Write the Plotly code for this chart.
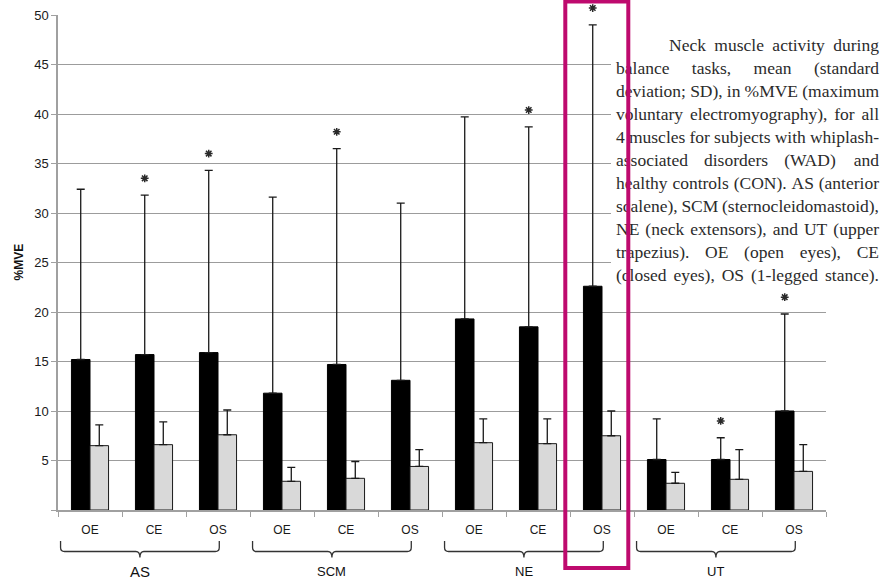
import plotly.graph_objects as go

# ---------------- data ----------------
groups = ["AS", "SCM", "NE", "UT"]
conditions = ["OE", "CE", "OS"]
wad_mean = [15.2, 15.7, 15.9, 11.8, 14.7, 13.1, 19.3, 18.5, 22.6, 5.1, 5.1, 10.0]
wad_sd = [17.2, 16.1, 18.4, 19.8, 21.8, 17.9, 20.4, 20.2, 26.4, 4.1, 2.2, 9.8]
con_mean = [6.5, 6.6, 7.6, 2.9, 3.2, 4.4, 6.8, 6.7, 7.5, 2.7, 3.1, 3.9]
con_sd = [2.1, 2.3, 2.5, 1.4, 1.7, 1.7, 2.4, 2.5, 2.5, 1.1, 3.0, 2.7]
significant = [False, True, True, False, True, False, False, True, True, False, True, True]
y_ticks = [0, 5, 10, 15, 20, 25, 30, 35, 40, 45, 50]
y_ticklabels = ["", "5", "10", "15", "20", "25", "30", "35", "40", "45", "50"]
caption_lines = [
    "Neck muscle activity during",
    "balance tasks, mean (standard",
    "deviation; SD), in %MVE (maximum",
    "voluntary electromyography), for all",
    "4 muscles for subjects with whiplash-",
    "associated disorders (WAD) and",
    "healthy controls (CON). AS (anterior",
    "scalene), SCM (sternocleidomastoid),",
    "NE (neck extensors), and UT (upper",
    "trapezius). OE (open eyes), CE",
    "(closed eyes), OS (1-legged stance).",
]

# ---------------- layout geometry ----------------
W, H = 885, 580
ML, MB = 58, 70            # paper area: x 58..885, y 0..510 (pixels)
PLOT_R, PLOT_T = 826, 15   # chart area inside paper
PAPER_W, PAPER_H = W - ML, H - MB
PW, PH = PLOT_R - ML, PAPER_H - PLOT_T
YMAX = 50
BARGAP = 0.42
N = len(groups) * len(conditions)
xs = list(range(N))
ticktext = conditions * len(groups)


def px_x(px):
    return (px - ML) / PAPER_W


def px_y(py):
    return (PAPER_H - py) / PAPER_H


def cat_px(c):
    return ML + (c + 0.5) * PW / N


def px_to_cat(px):
    return (px - ML) / (PW / N) - 0.5


def py_to_val(py):
    return (PAPER_H - py) / (PH / YMAX)


fig = go.Figure()

fig.add_bar(
    x=xs, y=wad_mean, name="WAD",
    marker=dict(color="#000000", line=dict(color="#000000", width=1)),
    error_y=dict(type="data", array=wad_sd, arrayminus=[0] * N, symmetric=False,
                 color="#1a1a1a", thickness=1.3, width=4),
)
fig.add_bar(
    x=xs, y=con_mean, name="CON",
    marker=dict(color="#D9D9D9", line=dict(color="#1a1a1a", width=1)),
    error_y=dict(type="data", array=con_sd, arrayminus=[0] * N, symmetric=False,
                 color="#1a1a1a", thickness=1.3, width=4),
)

# significance stars over the WAD bars (y3 = same scale, taller domain)
bw = (1 - BARGAP) / 2
star_x = [i - bw / 2 for i in xs if significant[i]]
star_y = [wad_mean[i] + wad_sd[i] + 1.7 for i in xs if significant[i]]
fig.add_scatter(
    x=star_x, y=star_y, mode="markers", cliponaxis=False, hoverinfo="skip",
    xaxis="x", yaxis="y3",
    marker=dict(symbol="asterisk-open", size=6.5, color="#2a2a2a",
                line=dict(color="#2a2a2a", width=1.5)),
)

# ---------------- justified caption (pixel-mapped axes) ----------------
TW = {' ': 250, 'a': 444, 'b': 500, 'c': 444, 'd': 500, 'e': 444, 'f': 333, 'g': 500,
      'h': 500, 'i': 278, 'j': 278, 'k': 500, 'l': 278, 'm': 778, 'n': 500, 'o': 500,
      'p': 500, 'q': 500, 'r': 333, 's': 389, 't': 278, 'u': 500, 'v': 500, 'w': 722,
      'x': 500, 'y': 500, 'z': 444, 'A': 722, 'C': 667, 'D': 722, 'E': 611, 'M': 889,
      'N': 722, 'O': 722, 'S': 556, 'T': 611, 'U': 722, 'V': 722, 'W': 944, '(': 333,
      ')': 333, ',': 250, '.': 250, ';': 278, '%': 833, '-': 333, '1': 500, '4': 500}
FS = 17.5
CAP_L, CAP_R, CAP_INDENT = 616, 879, 669
CAP_Y0, CAP_DY = 46.5, 23.0


def wwidth(w):
    return sum(TW.get(ch, 500) for ch in w) * FS / 1000.0


cx, cy, ct, cp = [], [], [], []
for li, line in enumerate(caption_lines):
    words = line.split(" ")
    left = CAP_INDENT if li == 0 else CAP_L
    y = CAP_Y0 + li * CAP_DY
    widths = [wwidth(w) for w in words]
    gap = (CAP_R - left - sum(widths)) / (len(words) - 1)
    pos = left
    for k, w in enumerate(words):
        if k == len(words) - 1:
            cx.append(CAP_R); cp.append("middle left")
        else:
            cx.append(pos); cp.append("middle right")
        cy.append(y); ct.append(w)
        pos += widths[k] + gap

fig.add_scatter(
    x=cx, y=cy, text=ct, mode="text", textposition=cp, cliponaxis=False,
    hoverinfo="skip", xaxis="x2", yaxis="y2",
    textfont=dict(family="Liberation Serif", size=FS, color="#2b2b2b"),
)

shapes = []
# white panel behind caption hides the gridlines (between grid and bars)
shapes.append(dict(type="rect", xref="x", yref="y", layer="between",
                   x0=px_to_cat(611), x1=px_to_cat(W), y0=py_to_val(292),
                   y1=py_to_val(30), fillcolor="white", line=dict(width=0)))

# group braces
BR_TOP, BR_H, BR_TIP = 541, 551.5, 557.5
for g in range(len(groups)):
    a = cat_px(g * 3 - 0.46)
    b = cat_px(g * 3 + 2 + 0.02)
    m = (a + b) / 2
    pts = [
        ("M", a, BR_TOP), ("L", a, BR_H - 4), ("Q", a, BR_H, a + 4, BR_H),
        ("L", m - 4, BR_H), ("Q", m, BR_H, m, BR_TIP), ("Q", m, BR_H, m + 4, BR_H),
        ("L", b - 4, BR_H), ("Q", b, BR_H, b, BR_H - 4), ("L", b, BR_TOP),
    ]
    path = ""
    for p in pts:
        coords = p[1:]
        s = [f"{px_x(coords[j]):.5f},{px_y(coords[j + 1]):.5f}"
             for j in range(0, len(coords), 2)]
        path += p[0] + " ".join(s) + " "
    shapes.append(dict(type="path", xref="paper", yref="paper", path=path.strip(),
                       layer="above", line=dict(color="#333333", width=1.3)))

# highlight box
shapes.append(dict(type="rect", xref="paper", yref="paper", layer="above",
                   x0=px_x(565.3), x1=px_x(628.3), y0=px_y(568), y1=px_y(1.5),
                   line=dict(color="#BE0A6E", width=4)))

annotations = []
group_sizes = [15, 13, 13, 13]
for g, name in enumerate(groups):
    a = cat_px(g * 3 - 0.46)
    b = cat_px(g * 3 + 2 + 0.02)
    annotations.append(dict(text=name, xref="paper", yref="paper",
                            x=px_x((a + b) / 2), y=px_y(571), showarrow=False,
                            xanchor="center", yanchor="middle",
                            font=dict(family="Liberation Sans", size=group_sizes[g],
                                      color="#111111")))
annotations.append(dict(text="<b>%MVE</b>", xref="paper", yref="paper",
                        x=px_x(18), y=px_y((PLOT_T + PAPER_H) / 2), textangle=-90,
                        showarrow=False, xanchor="center", yanchor="middle",
                        font=dict(family="Liberation Sans", size=12, color="#111111")))

fig.update_layout(
    width=W, height=H,
    margin=dict(l=ML, r=0, t=0, b=MB, pad=0, autoexpand=False),
    paper_bgcolor="white", plot_bgcolor="rgba(0,0,0,0)",
    showlegend=False, barmode="group", bargap=BARGAP, bargroupgap=0,
    shapes=shapes, annotations=annotations,
    xaxis=dict(domain=[0, PW / PAPER_W], anchor="y",
               range=[-0.5, N - 0.5], tickmode="array", tickvals=xs, ticktext=ticktext,
               ticks="", showgrid=False, zeroline=False, showline=True,
               linecolor="#A0A0A0", linewidth=1.5, ticklabelstandoff=8,
               tickfont=dict(family="Liberation Sans", size=12, color="#1a1a1a"),
               minor=dict(tickmode="array", tickvals=[i - 0.5 for i in range(N + 1)],
                          ticks="outside", ticklen=5, tickcolor="#A0A0A0",
                          tickwidth=1, showgrid=False)),
    yaxis=dict(domain=[0, PH / PAPER_H], anchor="x",
               range=[0, YMAX], tickmode="array", tickvals=y_ticks, ticktext=y_ticklabels,
               ticks="outside", ticklen=5, tickcolor="#A0A0A0", tickwidth=1,
               showgrid=True, gridcolor="#9C9C9C", gridwidth=1, zeroline=False,
               showline=True, linecolor="#A0A0A0", linewidth=1.5,
               tickfont=dict(family="Liberation Sans", size=13, color="#1a1a1a")),
    yaxis3=dict(domain=[0, 1], anchor="x", range=[0, YMAX * PAPER_H / PH],
                visible=False, showgrid=False),
    xaxis2=dict(domain=[0, 1], anchor="y2", range=[ML, W], visible=False),
    yaxis2=dict(domain=[0, 1], anchor="x2", range=[PAPER_H, 0], visible=False),
)

fig.write_html("out.html", config={"displayModeBar": False},
               post_script="document.body.style.margin='0px';"
                           "document.body.style.overflow='hidden';")
